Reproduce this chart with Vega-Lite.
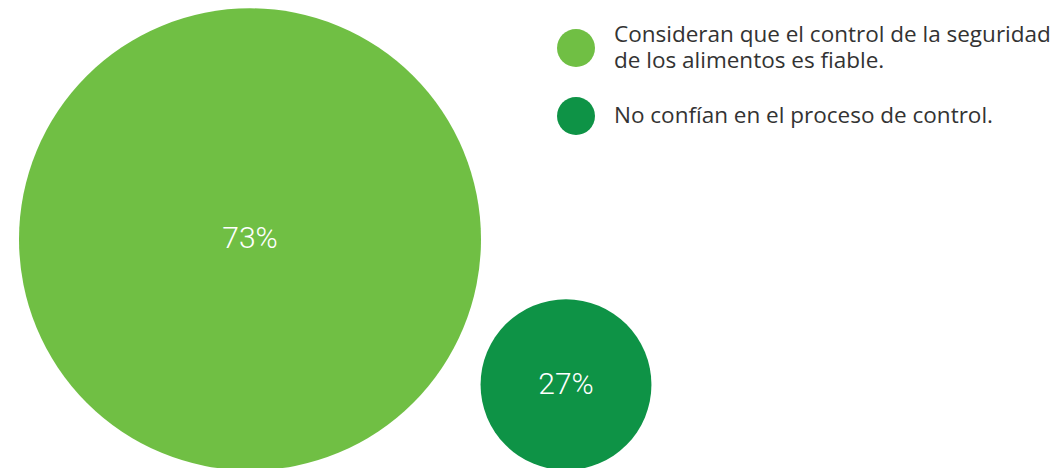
{
  "$schema": "https://vega.github.io/schema/vega-lite/v6.json",
  "width": 1059,
  "height": 468,
  "autosize": {"type": "fit", "contains": "padding"},
  "padding": 0,
  "background": "white",
  "config": {"view": {"stroke": null}},
  "data": {
    "values": [
      {"category": "Consideran que el control de la seguridad\nde los alimentos es fiable.", "value": 73, "label": "73%"},
      {"category": "No confían en el proceso de control.", "value": 27, "label": "27%"}
    ]
  },
  "encoding": {
    "x": {"field": "category", "type": "nominal", "sort": null, "scale": {"type": "point", "range": [250, 566], "padding": 0}, "axis": null},
    "y": {"field": "value", "type": "quantitative", "scale": {"domain": [0, 100], "range": [470, 154]}, "axis": null}
  },
  "layer": [
    {
      "mark": {"type": "circle", "opacity": 1},
      "encoding": {
        "size": {"field": "value", "type": "quantitative", "scale": {"type": "pow", "exponent": 2, "domain": [0, 73], "range": [0, 213444]}, "legend": null},
        "color": {
          "field": "category", "type": "nominal", "sort": null,
          "scale": {"range": ["#70BF44", "#0E9346"]},
          "legend": {
            "title": null,
            "orient": "none",
            "legendX": 557,
            "legendY": 29,
            "padding": 0,
            "symbolType": "circle",
            "symbolSize": 1444,
            "symbolOpacity": 1,
            "symbolStrokeWidth": 0,
            "labelFont": "Open Sans",
            "labelFontSize": 22.5,
            "labelColor": "#333333",
            "labelOffset": 19,
            "labelLimit": 0,
            "rowPadding": 24,
            "labelExpr": "split(datum.label, '\\n')",
            "encode": {
              "labels": {
                "update": {
                  "lineHeight": {"value": 25.5},
                  "dy": {"signal": "indexof(datum.label, '\\n') >= 0 ? -12.75 : 0"}
                }
              }
            }
          }
        }
      }
    },
    {
      "mark": {"type": "text", "color": "white", "font": "Roboto", "fontWeight": 300, "fontSize": 30, "baseline": "middle", "align": "center"},
      "encoding": {
        "text": {"field": "label", "type": "nominal"}
      }
    }
  ]
}
